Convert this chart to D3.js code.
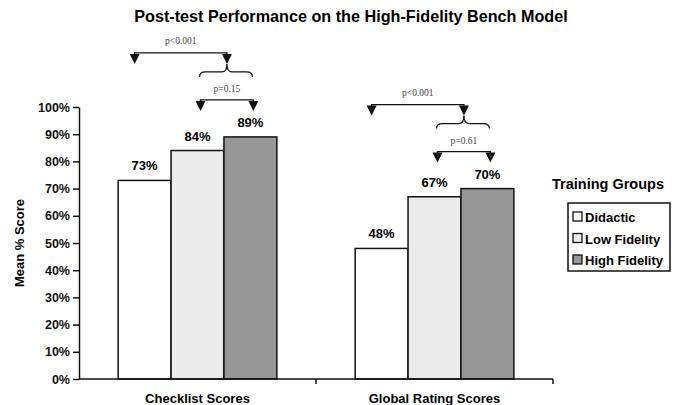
<!DOCTYPE html>
<html lang="en">
  <head>
    <meta charset="UTF-8" />
    <title>Post-test Performance</title>
    <style>
      body {
        margin: 0;
        background: #fff;
        font-family: Arial, "Liberation Sans", sans-serif;
      }
      .tick text {
        font-size: 12.5px;
        font-weight: bold;
        fill: #111;
      }
      .ptext {
        font-family: "Times New Roman", "Liberation Serif", serif;
        font-size: 9.5px;
        fill: #444;
      }
    </style>
  </head>
  <body>
    <svg width="680" height="405"></svg>

    <script src="https://d3js.org/d3.v7.min.js"></script>
    <script>
      // data
      const categories = ["Checklist Scores", "Global Rating Scores"];
      const groups = ["Didactic", "Low Fidelity", "High Fidelity"];
      const didactic = [73, 48];
      const lowFidelity = [84, 67];
      const highFidelity = [89, 70];
      const yTicks = [0, 10, 20, 30, 40, 50, 60, 70, 80, 90, 100];
      // p values: didactic vs (low+high), low vs high
      const pOverall = ["p<0.001", "p<0.001"];
      const pPair = ["p=0.15", "p=0.61"];

      const colors = ["#ffffff", "#ebebeb", "#979797"];
      const series = [didactic, lowFidelity, highFidelity];

      const svg = d3.select("svg");
      const plotLeft = 79,
        plotRight = 553,
        plotTop = 107,
        plotBottom = 379;

      const x0 = d3.scaleBand().domain(categories).range([plotLeft, plotRight]);
      const x1 = d3
        .scaleBand()
        .domain(groups)
        .range([0, x0.bandwidth()])
        .paddingOuter(0.74);
      const y = d3.scaleLinear().domain([0, 100]).range([plotBottom, plotTop]);

      // title
      svg
        .append("text")
        .attr("x", 351)
        .attr("y", 22)
        .attr("text-anchor", "middle")
        .style("font-size", "16.2px")
        .style("font-weight", "bold")
        .text("Post-test Performance on the High-Fidelity Bench Model");

      // bars
      categories.forEach((c, ci) => {
        groups.forEach((g, gi) => {
          const v = series[gi][ci];
          svg
            .append("rect")
            .attr("x", x0(c) + x1(g))
            .attr("y", y(v))
            .attr("width", x1.bandwidth())
            .attr("height", y(0) - y(v))
            .attr("fill", colors[gi])
            .attr("stroke", "#111")
            .attr("stroke-width", 1.5);
          svg
            .append("text")
            .attr("x", x0(c) + x1(g) + x1.bandwidth() / 2)
            .attr("y", y(v) - 10)
            .attr("text-anchor", "middle")
            .style("font-size", "13px")
            .style("font-weight", "bold")
            .text(v + "%");
        });
      });

      // y axis
      const yAxis = svg
        .append("g")
        .attr("transform", `translate(${plotLeft},0)`)
        .call(
          d3
            .axisLeft(y)
            .tickValues(yTicks)
            .tickFormat((d) => d + "%")
            .tickSize(6)
            .tickSizeOuter(0)
            .tickPadding(3)
        );
      yAxis.selectAll("line, path").attr("stroke", "#111").attr("stroke-width", 1.5);

      svg
        .append("text")
        .attr("transform", `translate(24,${(plotTop + plotBottom) / 2}) rotate(-90)`)
        .attr("text-anchor", "middle")
        .style("font-size", "13px")
        .style("font-weight", "bold")
        .text("Mean % Score");

      // x axis
      svg
        .append("line")
        .attr("x1", plotLeft)
        .attr("x2", plotRight)
        .attr("y1", plotBottom)
        .attr("y2", plotBottom)
        .attr("stroke", "#111")
        .attr("stroke-width", 1.5);
      categories.forEach((c) => {
        const xe = x0(c) + x0.bandwidth();
        svg
          .append("line")
          .attr("x1", xe)
          .attr("x2", xe)
          .attr("y1", plotBottom)
          .attr("y2", plotBottom + 5)
          .attr("stroke", "#111")
          .attr("stroke-width", 1.5);
        svg
          .append("text")
          .attr("x", x0(c) + x0.bandwidth() / 2)
          .attr("y", 403)
          .attr("text-anchor", "middle")
          .style("font-size", "13px")
          .style("font-weight", "bold")
          .text(c);
      });

      // significance brackets
      const arrowHead = (xa, ya) =>
        `M${xa - 5},${ya - 10}L${xa + 5},${ya - 10}L${xa},${ya}Z`;

      categories.forEach((c, ci) => {
        const cx = (g) => x0(c) + x1(g) + x1.bandwidth() / 2;
        const yMax = y(d3.max(series, (s) => s[ci]));
        const line2 = yMax - 37;
        const line1 = line2 - 47;
        const xD = cx(groups[0]) - 10;
        const xL = cx(groups[1]) + 3;
        const xH = cx(groups[2]) + 3;
        const xMid = (xL + xH) / 2;

        const a = svg.append("g");
        // overall bracket
        a.append("path")
          .attr("d", `M${xD},${line1 + 2}V${line1}H${xMid}V${line1 + 3}`)
          .attr("fill", "none")
          .attr("stroke", "#111")
          .attr("stroke-width", 1.3);
        a.append("path").attr("d", arrowHead(xD, line1 + 11)).attr("fill", "#111");
        a.append("path").attr("d", arrowHead(xMid, line1 + 11)).attr("fill", "#111");
        a.append("text")
          .attr("class", "ptext")
          .attr("x", (xD + xMid) / 2)
          .attr("y", line1 - 9)
          .attr("text-anchor", "middle")
          .text(pOverall[ci]);

        // curly brace under the right arrow
        const bl = xL - 1,
          br = xH - 1,
          bt = line1 + 16,
          bb = line1 + 24;
        a.append("path")
          .attr(
            "d",
            `M${bl},${bb}Q${bl},${bt + 3} ${bl + 6},${bt + 3}L${xMid - 5},${bt + 3}Q${xMid},${bt + 3} ${xMid},${bt - 5}` +
              `Q${xMid},${bt + 3} ${xMid + 5},${bt + 3}L${br - 6},${bt + 3}Q${br},${bt + 3} ${br},${bb}`
          )
          .attr("fill", "none")
          .attr("stroke", "#111")
          .attr("stroke-width", 1.3);

        // pair bracket
        a.append("path")
          .attr("d", `M${xL},${line2 + 3}V${line2}H${xH}V${line2 + 3}`)
          .attr("fill", "none")
          .attr("stroke", "#111")
          .attr("stroke-width", 1.3);
        a.append("path").attr("d", arrowHead(xL, line2 + 11)).attr("fill", "#111");
        a.append("path").attr("d", arrowHead(xH, line2 + 11)).attr("fill", "#111");
        a.append("text")
          .attr("class", "ptext")
          .attr("x", (xL + xH) / 2)
          .attr("y", line2 - 8)
          .attr("text-anchor", "middle")
          .text(pPair[ci]);
      });

      // legend
      svg
        .append("text")
        .attr("x", 552)
        .attr("y", 189)
        .style("font-size", "14.5px")
        .style("font-weight", "bold")
        .text("Training Groups");

      const lg = svg.append("g").attr("transform", "translate(568,203)");
      lg.append("rect")
        .attr("width", 102)
        .attr("height", 68)
        .attr("fill", "#fff")
        .attr("stroke", "#111")
        .attr("stroke-width", 1.5);
      groups.forEach((g, gi) => {
        const row = lg.append("g").attr("transform", `translate(4,${14 + gi * 21.5})`);
        row
          .append("rect")
          .attr("x", 1)
          .attr("y", -5)
          .attr("width", 9)
          .attr("height", 9)
          .attr("fill", colors[gi])
          .attr("stroke", "#111")
          .attr("stroke-width", 1.3);
        row
          .append("text")
          .attr("x", 13)
          .attr("y", 5)
          .style("font-size", "13px")
          .style("font-weight", "bold")
          .text(g);
      });
    </script>
  </body>
</html>
